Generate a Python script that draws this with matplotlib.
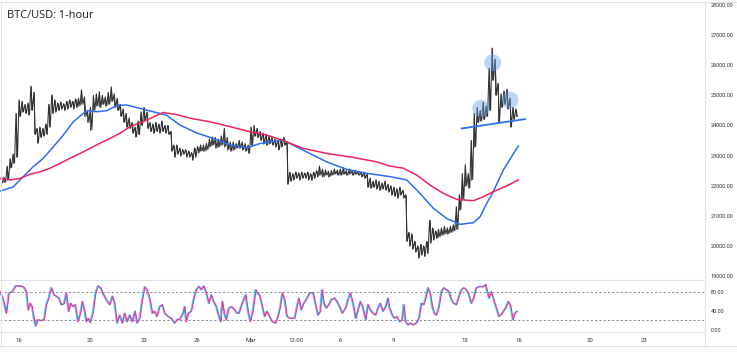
import numpy as np
import matplotlib
matplotlib.use("Agg")
import matplotlib.pyplot as plt
from matplotlib.lines import Line2D

# ---------------- data ----------------
title = "BTC/USD: 1-hour"

# 4-hour price bars, starting 2023-02-15 00:00 (day -1 relative to Feb 16)
bar_start_day = -1.0
bar_step_days = 4 / 24
bar_low = [22090, 22120, 22200, 22600, 22750, 22950, 24300, 24450, 24400, 24350, 24500, 23700,
           23420, 23600, 23650, 23700, 23950, 24400, 24450, 24500, 24550, 24500, 24550, 24600,
           24550, 24600, 24650, 24700, 24300, 24100, 23850, 24500, 24650, 24600, 24700, 24650,
           24700, 24800, 24600, 24500, 24300, 24100, 23950, 23900, 23750, 23620, 23700, 24000,
           24150, 23900, 23800, 23750, 23800, 23750, 23800, 23750, 23700, 23150, 22950, 23050,
           23000, 23050, 22950, 22950, 22850, 22950, 23100, 23150, 23150, 23200, 23300, 23350,
           23250, 23300, 23350, 23300, 23200, 23150, 23200, 23250, 23250, 23200, 23150, 23080,
           23350, 23650, 23600, 23500, 23400, 23350, 23400, 23350, 23300, 23200, 23300, 23350,
           22050, 22150, 22200, 22250, 22200, 22250, 22250, 22200, 22180, 22250, 22300, 22350,
           22300, 22350, 22300, 22350, 22380, 22350, 22350, 22380, 22350, 22400, 22350, 22380,
           22350, 22300, 22250, 21950, 21920, 21950, 21900, 21850, 21900, 21850, 21800, 21700,
           21650, 21600, 21700, 21600, 20150, 20000, 19900, 19800, 19600, 19700, 19650, 19750,
           20100, 20200, 20250, 20300, 20350, 20400, 20400, 20450, 20500, 20550, 21200, 21550,
           22000, 21920, 22200, 23300, 24100, 24150, 24200, 24300, 24500, 25500, 25000, 24100,
           24600, 24700, 24550, 23950, 24200, 24300]
bar_high = [22250, 22280, 22650, 22900, 23050, 24400, 24850, 24800, 24700, 24750, 25300, 25100,
            23900, 23950, 23900, 24050, 24700, 25020, 24850, 24750, 24780, 24720, 24800, 24850,
            24800, 24880, 24900, 25180, 24950, 24500, 24600, 25000, 25050, 25120, 25000, 24950,
            25100, 25280, 25050, 24900, 24700, 24550, 24400, 24250, 24100, 23950, 24150, 24450,
            24600, 24450, 24100, 24050, 24100, 24050, 24150, 24000, 24000, 23800, 23350, 23350,
            23250, 23200, 23200, 23150, 23100, 23250, 23300, 23350, 23350, 23400, 23550, 23620,
            23600, 23550, 23650, 23900, 23600, 23450, 23450, 23400, 23500, 23450, 23400, 23350,
            23950, 24000, 23900, 23800, 23750, 23700, 23650, 23600, 23550, 23500, 23550, 23600,
            23450, 22450, 22400, 22450, 22420, 22450, 22420, 22450, 22400, 22450, 22500, 22650,
            22550, 22520, 22480, 22500, 22550, 22520, 22550, 22600, 22500, 22550, 22500, 22520,
            22480, 22450, 22450, 22400, 22250, 22150, 22200, 22150, 22100, 22150, 22050, 22000,
            21950, 21900, 21950, 21850, 21700, 20450, 20400, 20150, 20000, 20050, 20000, 20150,
            20850, 20600, 20500, 20550, 20600, 20650, 20600, 20650, 20700, 21300, 21700, 22400,
            22700, 22400, 23500, 24400, 24600, 24500, 24780, 24650, 25900, 26570, 26200, 25400,
            25050, 25150, 25200, 24900, 24600, 24550]

# moving averages (days relative to 2023-02-16 00:00)
ma_fast_days = [-1.06, -0.32, 0.24, 0.80, 1.36, 1.92, 2.48, 3.04, 3.60, 3.88, 4.35, 4.91, 5.47,
                6.03, 7.15, 8.27, 9.02, 9.96, 10.87, 11.82, 12.77, 13.50, 14.23, 14.79, 15.91,
                17.24, 18.36, 19.48, 20.78, 21.72, 22.46, 23.21, 23.96, 24.71, 25.45, 25.83,
                26.20, 26.57, 27.13, 27.97]
ma_fast = [21820, 21960, 22300, 22630, 22910, 23290, 23680, 24120, 24400, 24490, 24455, 24490,
           24660, 24680, 24510, 24340, 24010, 23750, 23570, 23350, 23260, 23400, 23460, 23515,
           23180, 22790, 22540, 22410, 22300, 22190, 21745, 21250, 20910, 20715, 20770, 20970,
           21410, 21800, 22520, 23320]
ma_slow_days = [-1.06, -0.50, 0.06, 0.62, 1.18, 1.74, 2.30, 2.86, 3.42, 3.98, 4.54, 5.10, 5.66,
                6.22, 7.15, 8.07, 8.83, 9.58, 10.70, 11.82, 12.94, 13.88, 14.79, 15.91, 17.24,
                18.71, 20.04, 20.78, 21.53, 22.28, 23.03, 23.77, 24.52, 25.45, 26.01, 26.57,
                27.32, 27.97]
ma_slow = [22240, 22190, 22240, 22380, 22460, 22580, 22740, 22910, 23070, 23240, 23410, 23570,
           23740, 23960, 24180, 24430, 24360, 24240, 24120, 23960, 23790, 23680, 23500, 23240,
           23070, 22940, 22790, 22650, 22580, 22350, 22020, 21745, 21545, 21500, 21630, 21800,
           21990, 22190]

# head & shoulders annotation
neck_days = [24.80, 28.35]
neck_price = [23900, 24210]
hs_days = [25.87, 26.54, 27.51]
hs_price = [24570, 26080, 24840]

# stochastic RSI
stoch_days = [-1.06, -0.88, -0.69, -0.54, -0.35, -0.17, 0.09, 0.28, 0.43, 0.54, 0.65, 0.75, 0.84,
              0.95, 1.08, 1.27, 1.42, 1.55, 1.68, 1.83, 1.98, 2.11, 2.26, 2.39, 2.54, 2.67, 2.80,
              2.91, 3.04, 3.17, 3.32, 3.46, 3.57, 3.70, 3.79, 3.90, 4.01, 4.16, 4.31, 4.44, 4.59,
              4.76, 4.91, 5.10, 5.25, 5.38, 5.51, 5.66, 5.81, 5.94, 6.07, 6.22, 6.37, 6.52, 6.63,
              6.78, 6.93, 7.06, 7.19, 7.34, 7.49, 7.62, 7.75, 7.90, 8.05, 8.18, 8.37, 8.55, 8.74,
              8.89, 9.02, 9.21, 9.30, 9.39, 9.51, 9.67, 9.80, 9.95, 10.10, 10.23, 10.36, 10.51,
              10.66, 10.79, 10.92, 11.07, 11.22, 11.32, 11.41, 11.52, 11.63, 11.78, 11.93, 12.10,
              12.23, 12.34, 12.46, 12.61, 12.72, 12.85, 12.98, 13.13, 13.28, 13.37, 13.50, 13.65,
              13.78, 13.91, 14.06, 14.21, 14.40, 14.53, 14.66, 14.77, 14.90, 15.03, 15.22, 15.46,
              15.59, 15.70, 15.83, 15.97, 16.11, 16.30, 16.49, 16.64, 16.77, 16.90, 16.99, 17.10,
              17.23, 17.38, 17.51, 17.70, 17.83, 17.98, 18.13, 18.32, 18.45, 18.58, 18.73, 18.88,
              19.01, 19.14, 19.29, 19.44, 19.57, 19.70, 19.85, 20.00, 20.13, 20.26, 20.41, 20.56,
              20.69, 20.78, 20.93, 21.06, 21.19, 21.34, 21.49, 21.57, 21.68, 21.81, 21.94, 22.09,
              22.28, 22.43, 22.56, 22.69, 22.80, 22.93, 23.06, 23.17, 23.29, 23.40, 23.55, 23.68,
              23.81, 23.96, 24.11, 24.24, 24.37, 24.52, 24.67, 24.80, 24.93, 25.08, 25.23, 25.36,
              25.49, 25.64, 25.83, 26.01, 26.16, 26.35, 26.48, 26.61, 26.76, 26.91, 27.09, 27.28,
              27.43, 27.54, 27.69, 27.80, 27.92]
stoch_k = [81, 67, 35, 78, 81, 93, 93, 91, 81, 42, 56, 49, 28, 8, 21, 19, 22, 53, 67, 89, 74, 71,
           67, 53, 55, 78, 39, 56, 49, 53, 17, 35, 60, 39, 17, 24, 15, 35, 78, 93, 89, 74, 64, 53,
           71, 56, 14, 31, 14, 35, 17, 31, 17, 39, 14, 24, 64, 91, 85, 67, 35, 39, 28, 49, 53, 35,
           28, 24, 14, 22, 21, 35, 49, 17, 35, 39, 64, 85, 92, 85, 93, 78, 56, 74, 60, 49, 28, 17,
           60, 35, 21, 46, 49, 42, 35, 35, 49, 64, 74, 39, 17, 42, 85, 78, 74, 49, 28, 39, 28, 17,
           14, 28, 49, 78, 64, 28, 24, 24, 49, 67, 42, 56, 64, 78, 79, 53, 31, 39, 85, 56, 46, 53,
           64, 67, 60, 49, 35, 46, 64, 78, 56, 24, 42, 60, 46, 21, 53, 42, 35, 31, 46, 56, 39, 49,
           67, 46, 31, 24, 28, 17, 21, 53, 17, 10, 14, 10, 14, 24, 56, 53, 67, 89, 78, 49, 35, 31,
           49, 81, 89, 85, 81, 64, 56, 53, 71, 85, 89, 85, 74, 56, 67, 89, 92, 91, 96, 67, 81, 64,
           46, 28, 35, 46, 60, 53, 21, 35, 39]
stoch_levels = [80, 20]

price_ticks = [19000, 20000, 21000, 22000, 23000, 24000, 25000, 26000, 27000, 28000]
stoch_ticks = [0, 40, 80]
date_tick_days = [0, 4, 7, 10, 13, 15.5, 18, 21, 25, 28, 32, 35]
date_tick_labels = ["16", "20", "23", "26", "Mar", "12:00", "6", "9", "13", "16", "20", "23"]

# ---------------- figure ----------------
plt.rcParams["font.family"] = ["Roboto", "DejaVu Sans"]

W, H = 737, 354
fig = plt.figure(figsize=(W / 100, H / 100), dpi=100)
fig.patch.set_facecolor("white")

def fy(py):
    return 1 - py / H

x_right = 705 / W
ax = fig.add_axes([0.0, fy(280), x_right, fy(4) - fy(280)])
ax2 = fig.add_axes([0.0, fy(332), x_right, fy(280) - fy(332)])

xlim = (-1.064, 38.43)
grid_c = "#e0e3eb"
txt_c = "#333333"

for a in (ax, ax2):
    a.set_xlim(*xlim)
    for s in a.spines.values():
        s.set_visible(False)
    a.yaxis.tick_right()
    a.tick_params(axis="y", length=0, pad=4, labelsize=4.0, labelcolor=txt_c)
    a.set_facecolor("white")

# price bars: each bar's high then low, giving the dense jagged hourly-candle look
n = len(bar_low)
bar_x = bar_start_day + np.arange(n) * bar_step_days
low = np.array(bar_low)
high = np.array(bar_high)
path_x = np.empty(2 * n)
path_y = np.empty(2 * n)
path_x[0::2] = bar_x
path_x[1::2] = bar_x + bar_step_days / 2
path_y[0::2] = high
path_y[1::2] = low
ax.plot(path_x, path_y, color="#303030", lw=0.75, zorder=3)
ax.vlines(bar_x, low, high, color="#303030", lw=0.6, zorder=3)

ax.plot(ma_fast_days, ma_fast, color="#2f6fee", lw=1.1, zorder=4)
ax.plot(ma_slow_days, ma_slow, color="#e8265a", lw=1.1, zorder=4)

ax.plot(neck_days, neck_price, color="#2f72e8", lw=1.3, zorder=5)
ax.scatter(hs_days, hs_price, s=150, color="#6aa5e6", alpha=0.45, edgecolors="none", zorder=6)

ax.set_ylim(18867, 28033)
ax.set_yticks(price_ticks)
ax.set_yticklabels([f"{v:.2f}" for v in price_ticks])
ax.set_xticks([])

# stoch
ax2.set_ylim(-5.1, 105.7)
for lv in stoch_levels:
    ax2.axhline(lv, color="#8a8d96", lw=0.7, ls=(0, (2.2, 2.2)), zorder=1)
ax2.plot(np.array(stoch_days) - 0.04, stoch_k, color="#5cc4f2", lw=1.2, zorder=3)
ax2.plot(stoch_days, stoch_k, color="#df3fa0", lw=0.8, zorder=4)
ax2.set_yticks(stoch_ticks)
ax2.set_yticklabels([f"{v:.2f}" for v in stoch_ticks])
ax2.set_xticks(date_tick_days)
ax2.set_xticklabels(date_tick_labels)
ax2.tick_params(axis="x", length=0, pad=4, labelsize=4.3, labelcolor=txt_c)

# separators / frame
def hline(py_, x0=0, x1=W):
    fig.add_artist(Line2D([x0 / W, x1 / W], [fy(py_), fy(py_)], color=grid_c, lw=0.8))

hline(2)
hline(280, 0, 705)
hline(332, 0, 705)
hline(346)
fig.add_artist(Line2D([x_right, x_right], [fy(2), fy(346)], color=grid_c, lw=0.8))
fig.add_artist(Line2D([1 / W, 1 / W], [fy(2), fy(346)], color=grid_c, lw=0.8))

fig.text(7 / W, fy(16), title, fontsize=7.9, family=["Open Sans", "DejaVu Sans"],
         color="#1e1e1e", va="center", ha="left")

fig.savefig("out.png", dpi=100, facecolor="white")
